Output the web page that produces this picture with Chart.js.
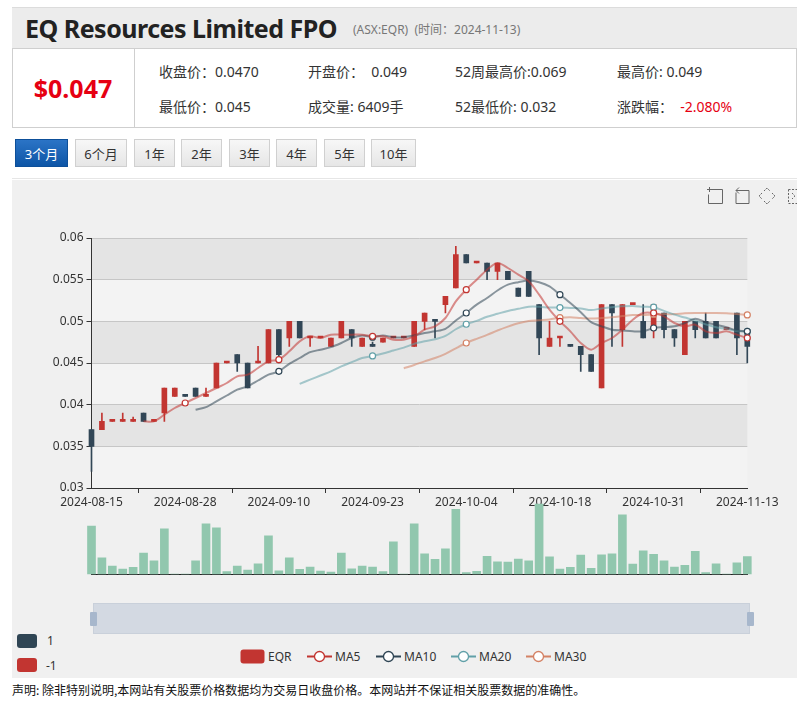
<!DOCTYPE html>
<html>
<head>
<meta charset="utf-8">
<script src="https://cdn.jsdelivr.net/npm/chart.js@4.4.1/dist/chart.umd.min.js"></script>
<style>
  body { margin: 0; width: 811px; height: 709px; background: #fff; position: relative; overflow: hidden;
         font-family: "Noto Sans", "Noto Sans CJK SC", sans-serif; color: #333; }
  .abs { position: absolute; white-space: nowrap; }
  #head { left: 12px; top: 7px; width: 785px; height: 41px; background: #ececec; border-top: 1px solid #dcdcdc; }
  #title { left: 25px; top: 11px; font-size: 25px; font-weight: bold; color: #222; letter-spacing: -0.5px; line-height: 34px; }
  #sub { left: 353px; top: 21px; font-size: 12px; color: #777; line-height: 18px; }
  #info { left: 12px; top: 48px; width: 783px; height: 78px; background: #fff; border: 1px solid #cfcfcf; }
  #sep { left: 134px; top: 49px; width: 1px; height: 78px; background: #cfcfcf; }
  #price { left: 12px; top: 70px; width: 122px; text-align: center; font-size: 25px; font-weight: bold; color: #e60012; line-height: 36px; }
  .f { font-size: 14px; line-height: 20px; color: #333; }
  .btn { top: 139px; height: 28px; line-height: 28px; text-align: center; font-size: 13px; color: #333;
         background: linear-gradient(#f7f7f7, #e6e6e6); border: 1px solid #d0d0d0; box-sizing: border-box; }
  .btn.on { background: linear-gradient(#2b74c6, #0d55a6); color: #fff; border-color: #0d4f99; }
  #rule { left: 12px; top: 178px; width: 785px; height: 1px; background: #e6e6e6; }
  #panel { left: 12px; top: 180px; width: 785px; height: 498px; background: #f0f0f0; }
  canvas { position: absolute; left: 0; }
  #slider { left: 93px; top: 603px; width: 657px; height: 31px; background: #d3d9e2; border: 1px solid #c9d0da; box-sizing: border-box; }
  .hdl { top: 612px; width: 7px; height: 14px; background: #a7b7cc; border-radius: 1px; }
  .vm { left: 17px; width: 20px; height: 14px; border-radius: 3px; }
  .lg { font-size: 12px; line-height: 14px; color: #333; }
  #foot { left: 12px; top: 682px; font-size: 12px; line-height: 16px; color: #111; font-family: "Noto Sans CJK SC", sans-serif; }
</style>
</head>
<body>
<div id="head" class="abs"></div>
<div id="title" class="abs">EQ Resources Limited FPO</div>
<div id="sub" class="abs">(ASX:EQR)&nbsp;&nbsp;(时间：2024-11-13)</div>
<div id="info" class="abs"></div>
<div id="sep" class="abs"></div>
<div id="price" class="abs">$0.047</div>
<div class="abs f" style="left:159px;top:62px">收盘价：0.0470</div>
<div class="abs f" style="left:308px;top:62px">开盘价：&nbsp;&nbsp;0.049</div>
<div class="abs f" style="left:455px;top:62px">52周最高价:0.069</div>
<div class="abs f" style="left:617px;top:62px">最高价: 0.049</div>
<div class="abs f" style="left:159px;top:97px">最低价：0.045</div>
<div class="abs f" style="left:308px;top:97px">成交量: 6409手</div>
<div class="abs f" style="left:455px;top:97px">52最低价: 0.032</div>
<div class="abs f" style="left:617px;top:97px">涨跌幅：&nbsp;&nbsp;<span style="color:#e60012">-2.080%</span></div>

<div class="abs btn on" style="left:15px;width:53px">3个月</div>
<div class="abs btn" style="left:75px;width:52px">6个月</div>
<div class="abs btn" style="left:134px;width:41px">1年</div>
<div class="abs btn" style="left:181px;width:41px">2年</div>
<div class="abs btn" style="left:229px;width:41px">3年</div>
<div class="abs btn" style="left:276px;width:41px">4年</div>
<div class="abs btn" style="left:324px;width:41px">5年</div>
<div class="abs btn" style="left:371px;width:45px">10年</div>
<div id="rule" class="abs"></div>

<div id="panel" class="abs"></div>
<svg class="abs" style="left:700px;top:184px" width="97" height="22" viewBox="0 0 97 22" fill="none" stroke="#666" stroke-width="1">
  <path d="M9.5 3v5M7 5.5h5M12 5.5h10.5v14h-14v-9"/>
  <path d="M36 8.5v11h13v-13h-8M39 3.5l-3 3 3 3M36 6.5h5"/>
  <path d="M64 7l3-3 3 3M64 17l3 3 3-3M62 9l-3 3 3 3M72 9l3 3-3 3" stroke-dasharray="2 1"/>
  <path d="M88.5 5.5v14M88.5 5.5h8.5M88.5 19.5h8.5M92 9l3 3-3 3" stroke-dasharray="2 1.5"/>
</svg>

<canvas id="kline" width="811" height="290" style="top:225px"></canvas>
<canvas id="vol" width="811" height="90" style="top:490px"></canvas>

<div id="slider" class="abs"></div>
<div class="abs hdl" style="left:90px"></div>
<div class="abs hdl" style="left:747px"></div>

<div class="abs vm" style="top:634px;background:#2f4554"></div>
<div class="abs lg" style="left:47px;top:634px">1</div>
<div class="abs vm" style="top:658px;background:#c23531"></div>
<div class="abs lg" style="left:46px;top:659px">-1</div>

<svg class="abs" style="left:240px;top:649px" width="340" height="15" viewBox="0 0 340 15">
  <rect x="0.5" y="0.5" width="24" height="14" rx="3" fill="#c23531"/>
  <g stroke-width="2" fill="#fff">
    <path d="M67 7.5h25" stroke="#c23531"/><circle cx="79.5" cy="7.5" r="5" stroke="#c23531" stroke-width="1.3"/>
    <path d="M136 7.5h25" stroke="#2f4554"/><circle cx="148.5" cy="7.5" r="5" stroke="#2f4554" stroke-width="1.3"/>
    <path d="M211 7.5h25" stroke="#61a0a8"/><circle cx="223.5" cy="7.5" r="5" stroke="#61a0a8" stroke-width="1.3"/>
    <path d="M286 7.5h25" stroke="#d48265"/><circle cx="298.5" cy="7.5" r="5" stroke="#d48265" stroke-width="1.3"/>
  </g>
</svg>
<div class="abs lg" style="left:268px;top:650px">EQR</div>
<div class="abs lg" style="left:335px;top:650px">MA5</div>
<div class="abs lg" style="left:404px;top:650px">MA10</div>
<div class="abs lg" style="left:479px;top:650px">MA20</div>
<div class="abs lg" style="left:554px;top:650px">MA30</div>

<div id="foot" class="abs">声明: 除非特别说明,本网站有关股票价格数据均为交易日收盘价格。本网站并不保证相关股票数据的准确性。</div>

<script>
const dates = [
  '2024-08-15','2024-08-16','2024-08-19','2024-08-20','2024-08-21','2024-08-22','2024-08-23','2024-08-26',
  '2024-08-27','2024-08-28','2024-08-29','2024-08-30','2024-09-02','2024-09-03','2024-09-04','2024-09-05',
  '2024-09-06','2024-09-09','2024-09-10','2024-09-11','2024-09-12','2024-09-13','2024-09-16','2024-09-17',
  '2024-09-18','2024-09-19','2024-09-20','2024-09-23','2024-09-24','2024-09-25','2024-09-26','2024-09-27',
  '2024-09-30','2024-10-01','2024-10-02','2024-10-03','2024-10-04','2024-10-07','2024-10-08','2024-10-09',
  '2024-10-10','2024-10-14','2024-10-15','2024-10-16','2024-10-17','2024-10-18','2024-10-21','2024-10-22',
  '2024-10-23','2024-10-24','2024-10-25','2024-10-28','2024-10-29','2024-10-30','2024-10-31','2024-11-01',
  '2024-11-04','2024-11-05','2024-11-06','2024-11-07','2024-11-08','2024-11-11','2024-11-12','2024-11-13'
];
const openPrices = [
  0.037,0.037,0.038,0.038,0.038,0.039,0.038,0.039, 0.041,0.041,0.042,0.041,0.042,0.045,0.046,0.045,
  0.045,0.045,0.049,0.048,0.050,0.048,0.048,0.047, 0.048,0.049,0.047,0.047,0.0475,0.048,0.048,0.047,
  0.050,0.050,0.052,0.054,0.058,0.057,0.057,0.056, 0.056,0.054,0.056,0.052,0.047,0.048,0.047,0.047,
  0.046,0.042,0.052,0.049,0.052,0.050,0.049,0.051, 0.049,0.046,0.050,0.050,0.050,0.049,0.051,0.049
];
const closePrices = [
  0.035,0.038,0.038,0.038,0.038,0.038,0.038,0.042, 0.042,0.041,0.041,0.041,0.045,0.045,0.045,0.042,
  0.045,0.049,0.046,0.050,0.048,0.048,0.048,0.048, 0.050,0.048,0.048,0.047,0.048,0.048,0.048,0.050,
  0.051,0.050,0.053,0.058,0.057,0.057,0.056,0.057, 0.055,0.053,0.053,0.048,0.048,0.048,0.047,0.046,
  0.044,0.052,0.051,0.052,0.052,0.048,0.052,0.049, 0.048,0.050,0.049,0.048,0.048,0.049,0.048,0.047
];
const lowPrices = [
  0.032,0.037,0.038,0.038,0.038,0.038,0.038,0.038, 0.041,0.041,0.041,0.041,0.042,0.045,0.044,0.042,
  0.045,0.045,0.045,0.047,0.048,0.047,0.048,0.047, 0.048,0.047,0.047,0.047,0.0475,0.048,0.048,0.047,
  0.049,0.048,0.051,0.054,0.057,0.057,0.055,0.055, 0.055,0.053,0.053,0.046,0.047,0.047,0.047,0.044,
  0.044,0.042,0.047,0.047,0.052,0.048,0.048,0.048, 0.047,0.046,0.048,0.048,0.048,0.049,0.046,0.045
];
const highPrices = [
  0.037,0.039,0.038,0.039,0.0385,0.039,0.038,0.042, 0.042,0.041,0.042,0.042,0.045,0.045,0.046,0.045,
  0.047,0.049,0.049,0.050,0.050,0.048,0.048,0.048, 0.050,0.049,0.048,0.0475,0.048,0.048,0.048,0.050,
  0.051,0.050,0.053,0.059,0.058,0.057,0.057,0.057, 0.056,0.054,0.056,0.052,0.050,0.048,0.047,0.047,
  0.046,0.052,0.052,0.052,0.052,0.052,0.052,0.051, 0.049,0.050,0.050,0.051,0.050,0.049,0.051,0.049
];
const volumes = [
  17760,6030,2960,1850,2480,7770,4920,16760, 0,0,4920,18610,17130,850,2960,1480,
  3810,14170,1220,6030,1740,2590,1110,740, 7770,1960,2960,2590,850,11950,0,18610,
  7510,5440,9360,23940,480,1000,6550,4550, 4440,5550,4920,25900,6400,1850,2480,7030,
  2110,7140,7510,21940,3700,8620,7290,4920, 2590,3220,8400,480,3810,0,4180,6409
];
const maPeriods = [5, 10, 20, 30];
const maColors = ['#c23531', '#2f4554', '#61a0a8', '#d48265'];
const upColor = '#c23531';
const downColor = '#314656';
const labelEvery = 9;

function calculateMA(dayCount) {
  const result = [];
  for (let i = 0; i < closePrices.length; i++) {
    if (i < dayCount) {
      result.push(null);
      continue;
    }
    let sum = 0;
    for (let j = 0; j < dayCount; j++) sum += closePrices[i - j];
    result.push(sum / dayCount);
  }
  return result;
}

function fade(hex, a) {
  const n = parseInt(hex.slice(1), 16);
  return `rgba(${n >> 16},${(n >> 8) & 255},${n & 255},${a})`;
}

// flat candles take the colour of the move from yesterday's close
const candleColors = closePrices.map((c, i) => {
  const o = openPrices[i];
  if (o !== c) return c > o ? upColor : downColor;
  return i > 0 && c < closePrices[i - 1] ? downColor : upColor;
});

const splitAreaPlugin = {
  id: 'splitArea',
  beforeDraw(chart) {
    const { ctx, chartArea, scales: { y } } = chart;
    const bands = ['#f3f3f3', '#e4e4e4'];
    let k = 0;
    for (let v = y.min; v < y.max - 1e-9; v += 0.005, k++) {
      const top = y.getPixelForValue(Math.min(v + 0.005, y.max));
      const bottom = y.getPixelForValue(v);
      ctx.fillStyle = bands[k % 2];
      ctx.fillRect(chartArea.left, top, chartArea.right - chartArea.left, bottom - top);
    }
  }
};

const maDatasets = maPeriods.map((p, k) => ({
  type: 'line',
  label: 'MA' + p,
  data: calculateMA(p),
  borderColor: fade(maColors[k], 0.55),
  borderWidth: 2,
  tension: 0.3,
  pointRadius: ctx => (ctx.dataIndex % labelEvery === 0 ? 3 : 0),
  pointBackgroundColor: '#fff',
  pointBorderColor: maColors[k],
  pointBorderWidth: 1.2,
  clip: 8,
  order: 0
}));

new Chart(document.getElementById('kline'), {
  type: 'bar',
  data: {
    labels: dates,
    datasets: [
      {
        label: 'wick',
        data: lowPrices.map((l, i) => [l, highPrices[i]]),
        backgroundColor: candleColors,
        barThickness: 1,
        grouped: false,
        clip: 8,
        order: 2
      },
      {
        label: 'EQR',
        data: openPrices.map((o, i) => [o, closePrices[i]]),
        backgroundColor: candleColors,
        barThickness: 5,
        minBarLength: 2,
        grouped: false,
        clip: 8,
        order: 1
      },
      ...maDatasets
    ]
  },
  options: {
    responsive: false,
    animation: false,
    events: [],
    layout: { padding: { left: 0, right: 63.7, top: 13, bottom: 0 } },
    plugins: { legend: { display: false }, tooltip: { enabled: false } },
    scales: {
      x: {
        offset: false,
        grid: { drawOnChartArea: false, tickLength: 5, tickColor: '#333' },
        border: { color: '#333' },
        ticks: { autoSkip: false, maxRotation: 0, color: '#333', padding: 2,
                 font: { size: 12, family: '"Noto Sans", sans-serif' } },
        afterBuildTicks: s => { s.ticks = s.ticks.filter(t => t.value % labelEvery === 0); },
        afterFit: s => { s.height = 27; }
      },
      y: {
        min: 0.03,
        max: 0.06,
        ticks: { stepSize: 0.005, color: '#333', padding: 3,
                 font: { size: 12, family: '"Noto Sans", sans-serif' },
                 callback: v => String(+v.toFixed(3)) },
        grid: { color: '#c6c6c6', tickLength: 5, tickColor: '#333' },
        border: { color: '#333' },
        afterFit: s => { s.width = 91.5; }
      }
    }
  },
  plugins: [splitAreaPlugin]
});

new Chart(document.getElementById('vol'), {
  type: 'bar',
  data: {
    labels: dates,
    datasets: [{ label: 'Volume', data: volumes, backgroundColor: '#91c7ae', barThickness: 8, clip: 8 }]
  },
  options: {
    responsive: false,
    animation: false,
    events: [],
    layout: { padding: { left: 91.5, right: 63.7, top: 10, bottom: 0 } },
    plugins: { legend: { display: false }, tooltip: { enabled: false } },
    scales: {
      x: {
        offset: false,
        ticks: { display: false },
        grid: { display: false },
        border: { color: '#222', width: 1 },
        afterFit: s => { s.height = 6; }
      },
      y: { display: false, min: 0, max: 27400 }
    }
  }
});
</script>
</body>
</html>
